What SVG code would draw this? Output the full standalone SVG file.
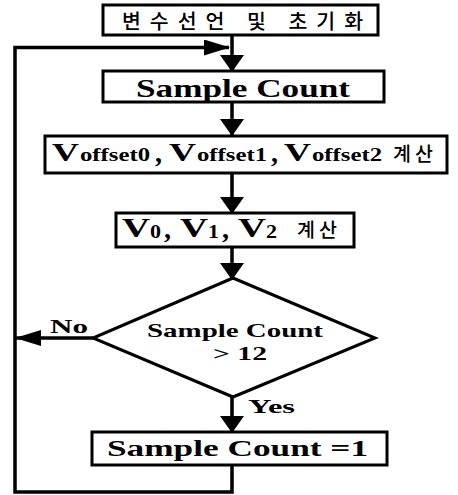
<svg xmlns="http://www.w3.org/2000/svg" width="458" height="495" viewBox="0 0 458 495">
<style>
.box{fill:#fff;stroke:#000;stroke-width:3}
.ln{fill:none;stroke:#000;stroke-width:3.5}
.en{font-family:"Liberation Serif","Times New Roman",serif;font-weight:bold;fill:#000}
.ko{font-family:"Noto Sans CJK KR","Noto Sans",sans-serif;font-weight:500;fill:#000}
</style>
<defs>
<marker id="av" viewBox="0 0 17 24" refX="16" refY="12" markerWidth="17" markerHeight="24" markerUnits="userSpaceOnUse" orient="auto">
<path d="M0,0 L17,12 L0,24 Z" fill="#000"/>
</marker>
<marker id="ah" viewBox="0 0 26 16" refX="25" refY="8" markerWidth="26" markerHeight="16" markerUnits="userSpaceOnUse" orient="auto">
<path d="M0,0 L26,8 L0,16 Z" fill="#000"/>
</marker>
</defs>
<g id="connectors">
<line class="ln" x1="232" y1="35" x2="232" y2="71" marker-end="url(#av)"/>
<line class="ln" x1="232" y1="102" x2="232" y2="135" marker-end="url(#av)"/>
<line class="ln" x1="232" y1="174" x2="232" y2="213" marker-end="url(#av)"/>
<line class="ln" x1="232" y1="247" x2="232" y2="279" marker-end="url(#av)"/>
<line class="ln" x1="232" y1="397" x2="232" y2="432" marker-end="url(#av)"/>
<line class="ln" x1="93" y1="338" x2="16" y2="338" marker-end="url(#ah)"/>
<polyline class="ln" points="232,465 232,492 15,492 15,47.5 229,47.5" marker-end="url(#ah)"/>
<text class="en" x="50" y="333" font-size="19" textLength="38" lengthAdjust="spacingAndGlyphs">No</text>
<text class="en" x="248" y="413" font-size="18" textLength="47" lengthAdjust="spacingAndGlyphs">Yes</text>
</g>
<g id="init">
<rect class="box" x="103" y="5" width="275" height="30"/>
<text class="ko" x="122" y="28.5" font-size="20.5" textLength="241" lengthAdjust="spacing">변수선언 및 초기화</text>
</g>
<g id="count">
<rect class="box" x="103" y="71" width="281" height="31"/>
<text class="en" x="136" y="97" font-size="26" textLength="214" lengthAdjust="spacingAndGlyphs">Sample Count</text>
</g>
<g id="offset">
<rect class="box" x="45" y="136" width="402" height="37"/>
<text class="en" x="52" y="161" font-size="26" textLength="27" lengthAdjust="spacingAndGlyphs">V</text>
<text class="en" x="80" y="161" font-size="19" textLength="70" lengthAdjust="spacingAndGlyphs">offset0</text>
<text class="en" x="155" y="162" font-size="28">,</text>
<text class="en" x="169" y="161" font-size="26" textLength="27" lengthAdjust="spacingAndGlyphs">V</text>
<text class="en" x="197" y="161" font-size="19" textLength="70" lengthAdjust="spacingAndGlyphs">offset1</text>
<text class="en" x="271" y="162" font-size="28">,</text>
<text class="en" x="284" y="161" font-size="26" textLength="27" lengthAdjust="spacingAndGlyphs">V</text>
<text class="en" x="312" y="161" font-size="19" textLength="70" lengthAdjust="spacingAndGlyphs">offset2</text>
<text class="ko" x="393" y="161" font-size="19.5" textLength="40" lengthAdjust="spacing">계산</text>
</g>
<g id="volt">
<rect class="box" x="116" y="213" width="238" height="34"/>
<text class="en" x="122" y="237" font-size="27" textLength="28" lengthAdjust="spacingAndGlyphs">V</text>
<text class="en" x="150" y="238" font-size="19" textLength="11" lengthAdjust="spacingAndGlyphs">0</text>
<text class="en" x="164" y="238" font-size="28">,</text>
<text class="en" x="180" y="237" font-size="27" textLength="28" lengthAdjust="spacingAndGlyphs">V</text>
<text class="en" x="208" y="238" font-size="19" textLength="11" lengthAdjust="spacingAndGlyphs">1</text>
<text class="en" x="222" y="238" font-size="28">,</text>
<text class="en" x="238" y="237" font-size="27" textLength="28" lengthAdjust="spacingAndGlyphs">V</text>
<text class="en" x="266" y="238" font-size="19" textLength="11" lengthAdjust="spacingAndGlyphs">2</text>
<text class="ko" x="297" y="237" font-size="19.5" textLength="40" lengthAdjust="spacing">계산</text>
</g>
<g id="decision">
<polygon class="box" points="233,278 375,338 233,397 93,338"/>
<text class="en" x="147" y="337" font-size="19" textLength="176" lengthAdjust="spacingAndGlyphs">Sample Count</text>
<text class="en" x="213" y="360" font-size="19" textLength="54" lengthAdjust="spacingAndGlyphs">&gt; 12</text>
</g>
<g id="reset">
<rect class="box" x="92" y="432" width="295" height="33"/>
<text class="en" x="107" y="456" font-size="24" textLength="261" lengthAdjust="spacingAndGlyphs">Sample Count =1</text>
</g>
</svg>
